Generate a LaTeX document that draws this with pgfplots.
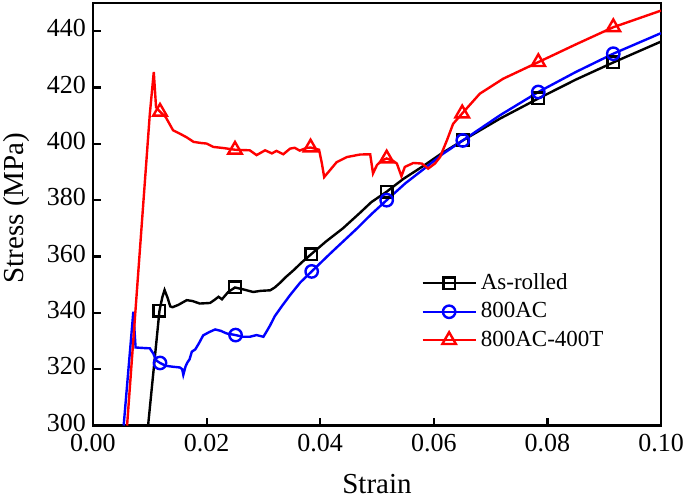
\documentclass[border=0pt]{standalone}
\usepackage{fontspec}
\setmainfont{Liberation Serif}
\usepackage{pgfplots}
\pgfplotsset{compat=1.18}
\usetikzlibrary{calc}
\begin{document}
\begin{tikzpicture}
\begin{axis}[
  scale only axis, width=284pt, height=211.25pt,
  xmin=0, xmax=0.1, ymin=300, ymax=450,
  xtick={0,0.02,0.04,0.06,0.08,0.1},
  ytick={300,320,340,360,380,400,420,440},
  scaled x ticks=false,
  xticklabel style={yshift=-1pt, /pgf/number format/fixed, /pgf/number format/fixed zerofill, /pgf/number format/precision=2},
  /pgf/number format/assume math mode=true,
  tick align=inside, xtick pos=bottom, ytick pos=left, major tick length=4pt,
  tick style={line width=1.1pt, black},
  axis line style={line width=1.4pt},
  ticklabel style={font=\fontsize{13}{15}\selectfont},
  yticklabel style={yshift=1.5pt},
  label style={font=\fontsize{14.5}{17}\selectfont},
  xlabel={Strain}, ylabel={Stress (MPa)},
  xlabel style={yshift=-4pt},
  ylabel style={at={(ticklabel cs:0.515)}, yshift=2pt},
  legend style={draw=none, fill=none, font=\fontsize{11.5}{13}\selectfont,
    at={(rel axis cs:0.742,0.27)}, anchor=center, row sep=1pt},
  legend cell align=left,
  legend image code/.code={\draw[mark repeat=2,mark phase=2] plot coordinates {(0pt,0pt)(13.25pt,0pt)(26.5pt,0pt)};},
]
\addlegendimage{black, line width=1.2pt, mark=square, mark size=2.9pt, mark options={fill=white, solid}}
\addlegendentry{As-rolled}
\addlegendimage{blue, line width=1.2pt, mark=o, mark size=3.1pt, mark options={fill=white, solid}}
\addlegendentry{800AC}
\addlegendimage{red, line width=1.2pt, mark=triangle, mark size=3.9pt, mark options={fill=white, solid}}
\addlegendentry{800AC-400T}

% As-rolled line
\addplot[black, line width=1.2pt, mark=none, forget plot] coordinates {
(0.0097,300)(0.0117,340.7)(0.0122,345.5)(0.0126,348.1)(0.0131,345.5)(0.0136,342.3)(0.0140,342.0)
(0.0150,342.8)(0.0165,344.5)(0.0175,344.2)(0.0188,343.3)(0.0206,343.5)(0.0214,344.6)(0.0221,345.7)
(0.0227,344.8)(0.0238,347.4)(0.0250,349.0)(0.0265,348.3)(0.0282,347.4)(0.0295,347.8)(0.0312,348.0)
(0.0320,349.0)(0.0329,350.6)(0.0340,352.8)(0.0353,355.1)(0.0368,358.0)(0.0384,360.8)(0.0410,365.3)
(0.0440,370.0)(0.0470,375.5)(0.0490,379.3)(0.0517,383.0)(0.0546,387.5)(0.0582,392.2)(0.0613,396.5)
(0.0651,401.2)(0.0717,409.0)(0.0784,416.1)(0.0850,422.8)(0.0916,428.9)(0.1000,436.3)
};
\addplot[black, line width=1.2pt, only marks, mark=square, mark size=2.9pt, mark options={fill=white, solid}, forget plot] coordinates {
(0.0117,340.7)(0.0250,349.0)(0.0384,360.8)(0.0517,383.0)(0.0651,401.2)(0.0784,416.1)(0.0916,428.9)
};

% 800AC line
\addplot[blue, line width=1.2pt, mark=none, forget plot] coordinates {
(0.0054,300)(0.0071,340.4)(0.0073,334.0)(0.0075,327.7)(0.0090,327.5)(0.0100,327.4)(0.0106,325.6)
(0.0112,323.0)(0.0118,322.2)(0.0128,321.2)(0.0139,320.9)(0.0153,320.6)(0.0157,320.0)(0.0159,318.0)
(0.0163,321.0)(0.0166,322.3)(0.0170,323.5)(0.0174,326.2)(0.0180,327.0)(0.0186,329.0)(0.0194,332.0)
(0.0205,333.2)(0.0215,334.1)(0.0225,333.6)(0.0235,332.7)(0.0251,332.1)(0.0264,331.5)(0.0276,331.5)
(0.0288,332.1)(0.0300,331.5)(0.0306,333.5)(0.0312,335.6)(0.0320,338.8)(0.0333,342.5)(0.0347,346.3)
(0.0365,350.8)(0.0385,354.7)(0.0420,361.5)(0.0464,369.8)(0.0490,375.0)(0.0517,380.0)(0.0550,386.0)
(0.0582,391.0)(0.0615,396.3)(0.0651,401.2)(0.0717,410.2)(0.0784,418.4)(0.0850,425.5)(0.0916,432.0)
(0.1000,439.3)
};
\addplot[blue, line width=1.2pt, only marks, mark=o, mark size=3.1pt, mark options={fill=white, solid}, forget plot] coordinates {
(0.0118,322.2)(0.0251,332.1)(0.0385,354.7)(0.0517,380.0)(0.0651,401.2)(0.0784,418.4)(0.0916,432.0)
};

% 800AC-400T line
\addplot[red, line width=1.2pt, mark=none, forget plot] coordinates {
(0.0060,300)(0.0100,410.5)(0.0107,425.5)(0.0111,413.0)(0.0118,411.4)(0.0128,409.5)(0.0136,406.6)
(0.0141,404.8)(0.0153,403.6)(0.0165,402.3)(0.0177,400.7)(0.0190,400.3)(0.0200,400.1)(0.0212,398.9)
(0.0230,398.5)(0.0250,397.9)(0.0276,397.7)(0.0288,396.0)(0.0303,397.7)(0.0315,396.6)(0.0323,397.5)
(0.0335,396.3)(0.0347,398.3)(0.0355,398.6)(0.0364,397.6)(0.0375,398.5)(0.0383,398.7)(0.0398,397.9)
(0.0403,393.0)(0.0407,388.2)(0.0417,390.6)(0.0429,393.5)(0.0447,395.3)(0.0470,396.2)(0.0488,396.3)
(0.0493,389.5)(0.0500,392.5)(0.0508,394.0)(0.0517,394.8)(0.0528,394.0)(0.0535,393.0)(0.0543,388.5)
(0.0549,391.8)(0.0564,393.2)(0.0579,393.0)(0.0590,391.2)(0.0602,393.0)(0.0611,395.3)(0.0623,401.2)
(0.0634,407.1)(0.0650,410.8)(0.0681,417.8)(0.0722,423.1)(0.0784,429.0)(0.0850,435.3)(0.0916,441.4)
(0.1000,447.3)
};
\addplot[red, line width=1.2pt, only marks, mark=triangle, mark size=3.9pt, mark options={fill=white, solid}, forget plot] coordinates {
(0.0118,411.4)(0.0250,397.9)(0.0383,398.7)(0.0517,394.8)(0.0650,410.8)(0.0784,429.0)(0.0916,441.4)
};
\end{axis}
\pgfresetboundingbox
\path ($(current axis.south west)+(-46.5pt,-36.25pt)$) rectangle ($(current axis.north east)+(12pt,1.5pt)$);
\end{tikzpicture}
\end{document}
